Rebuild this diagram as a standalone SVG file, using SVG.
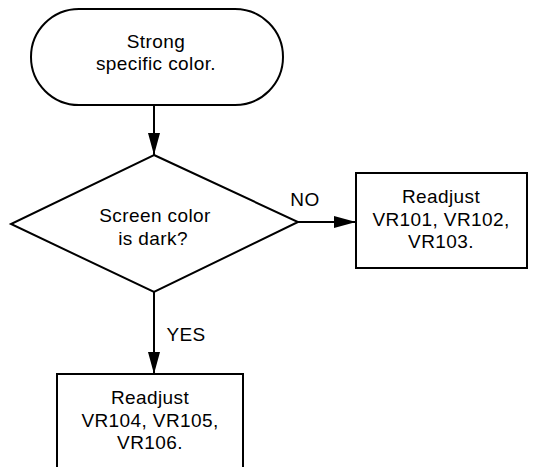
<svg xmlns="http://www.w3.org/2000/svg" width="538" height="467" viewBox="0 0 538 467">
  <defs>
    <!-- long narrow filled arrowhead, tip at the end of the line -->
    <marker id="arrow" markerWidth="22" markerHeight="12" refX="10" refY="5" orient="auto" markerUnits="userSpaceOnUse" viewBox="0 0 10 10" preserveAspectRatio="none">
      <path d="M0,0 L10,5 L0,10 Z" fill="#000"/>
    </marker>
    <style>
      .shape { fill: #fff; stroke: #000; stroke-width: 2; }
      .line { fill: none; stroke: #000; stroke-width: 2; }
      text { font-family: "Liberation Sans", Arial, sans-serif; font-size: 19px; fill: #000; text-anchor: middle; letter-spacing: 0.4px; }
    </style>
  </defs>
  <rect width="538" height="467" fill="#fff"/>

  <g id="connectors">
    <line class="line" x1="154" y1="105" x2="154" y2="155" marker-end="url(#arrow)"/>
    <line class="line" x1="298" y1="222" x2="356" y2="222" marker-end="url(#arrow)"/>
    <line class="line" x1="154" y1="292" x2="154" y2="374" marker-end="url(#arrow)"/>
    <text x="305" y="206">NO</text>
    <text x="186" y="341">YES</text>
  </g>

  <g id="start">
    <rect class="shape" x="31" y="9" width="252" height="96" rx="48" ry="48"/>
    <text x="156" y="48">Strong</text>
    <text x="156" y="70">specific color.</text>
  </g>

  <g id="decision">
    <polygon class="shape" points="154,155 298,222 154,292 11,224"/>
    <text x="155" y="222">Screen color</text>
    <text x="153" y="245">is dark?</text>
  </g>

  <g id="adjust-101">
    <rect class="shape" x="356" y="173" width="171" height="95"/>
    <text x="441" y="203">Readjust</text>
    <text x="441" y="226">VR101, VR102,</text>
    <text x="441" y="248">VR103.</text>
  </g>

  <g id="adjust-104">
    <rect class="shape" x="57" y="374" width="186" height="110"/>
    <text x="150" y="404">Readjust</text>
    <text x="150" y="427">VR104, VR105,</text>
    <text x="150" y="449">VR106.</text>
  </g>
</svg>
